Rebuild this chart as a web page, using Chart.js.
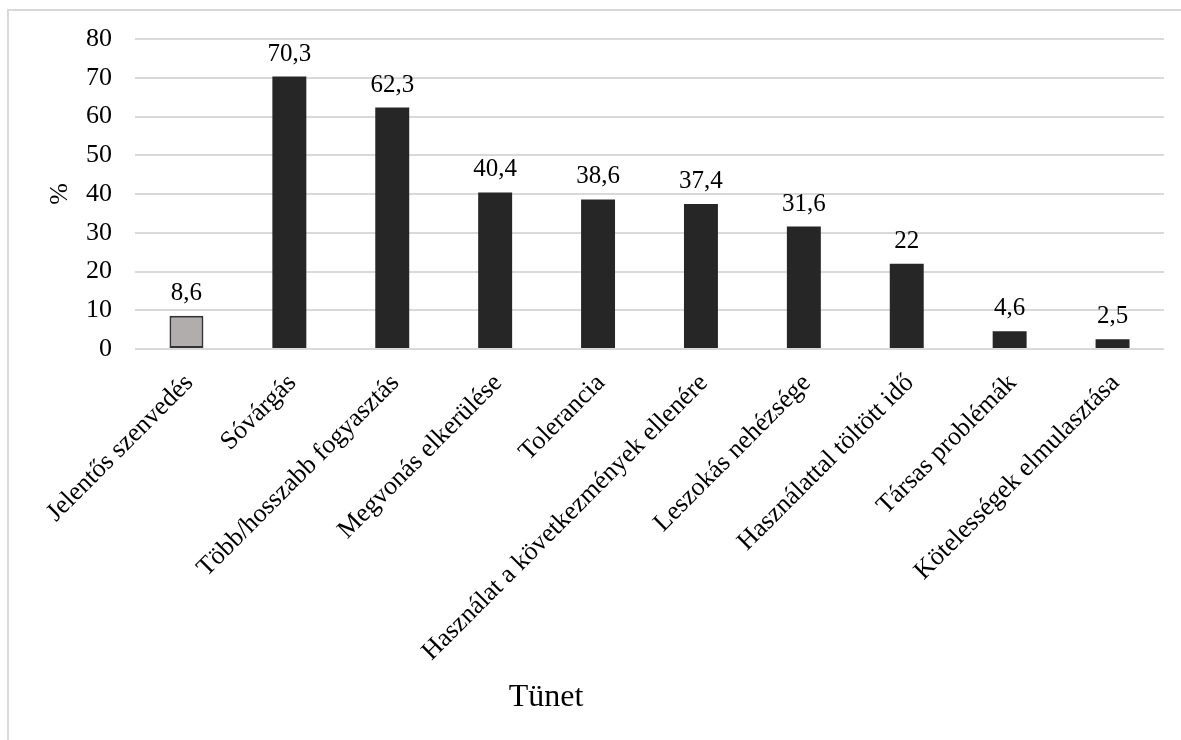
<!DOCTYPE html>
<html>
<head>
<meta charset="utf-8">
<script src="https://cdn.jsdelivr.net/npm/chart.js@4.4.1/dist/chart.umd.min.js"></script>
<style>
  html, body { margin: 0; padding: 0; background: #fff; overflow: hidden; }
  #frame { position: absolute; left: 7px; top: 9px; width: 1300px; height: 900px; border: 2px solid #d9d9d9; }
  #wrap { position: absolute; left: 0; top: 0; width: 1181px; height: 740px; }
</style>
</head>
<body>
<div id="frame"></div>
<div id="wrap"><canvas id="c" width="1181" height="740"></canvas></div>
<script>
const categories = [
  "Jelentős szenvedés",
  "Sóvárgás",
  "Több/hosszabb fogyasztás",
  "Megvonás elkerülése",
  "Tolerancia",
  "Használat a következmények ellenére",
  "Leszokás nehézsége",
  "Használattal töltött idő",
  "Társas problémák",
  "Kötelességek elmulasztása"
];
const values = [8.6, 70.3, 62.3, 40.4, 38.6, 37.4, 31.6, 22, 4.6, 2.5];
const valueLabels = ["8,6", "70,3", "62,3", "40,4", "38,6", "37,4", "31,6", "22", "4,6", "2,5"];
const yTicks = [0, 10, 20, 30, 40, 50, 60, 70, 80];
const yTitle = "%";
const xTitle = "Tünet";

const FONT = "'Liberation Serif', 'Times New Roman', serif";

const dataLabelPlugin = {
  id: 'dataLabels',
  afterDatasetsDraw(chart) {
    const ctx = chart.ctx;
    const meta = chart.getDatasetMeta(0);
    ctx.save();
    ctx.font = "25px " + FONT;
    ctx.fillStyle = "#000";
    ctx.textAlign = "center";
    ctx.textBaseline = "alphabetic";
    meta.data.forEach((bar, i) => {
      ctx.fillText(valueLabels[i], bar.x, bar.y - 16);
    });
    // x-axis title, positioned like the original (left of the plot centre)
    ctx.font = "32px " + FONT;
    ctx.fillText(xTitle, 546, 706);
    ctx.restore();
  }
};

new Chart(document.getElementById('c'), {
  type: 'bar',
  data: {
    labels: categories,
    datasets: [{
      data: values,
      backgroundColor: (c) => c.dataIndex === 0 ? '#b0adac' : '#262626',
      borderColor: '#333333',
      borderWidth: (c) => c.dataIndex === 0 ? 2 : 0,
      borderSkipped: false,
      categoryPercentage: 1,
      barPercentage: 0.33
    }]
  },
  options: {
    responsive: false,
    animation: false,
    layout: { padding: { left: 0, right: 17, top: 39, bottom: 0 } },
    plugins: { legend: { display: false }, tooltip: { enabled: false } },
    scales: {
      x: {
        grid: { display: false, drawTicks: false },
        border: { display: false },
        ticks: {
          font: { family: FONT, size: 26 },
          color: '#000',
          minRotation: 45,
          maxRotation: 45,
          padding: 19,
          labelOffset: 3,
          autoSkip: false
        },
        title: { display: false },
        afterFit(scale) { scale.height = 391; }
      },
      y: {
        min: 0,
        max: 80,
        afterBuildTicks(scale) { scale.ticks = yTicks.map(v => ({ value: v })); },
        grid: { color: '#d9d9d9', lineWidth: 2, drawTicks: false },
        border: { display: false },
        ticks: {
          font: { family: FONT, size: 26 },
          color: '#000',
          padding: 23
        },
        title: {
          display: true,
          text: yTitle,
          font: { family: FONT, size: 26 },
          color: '#000',
          padding: { top: 45, bottom: 0 }
        },
        afterFit(scale) { scale.width = 135; }
      }
    }
  },
  plugins: [dataLabelPlugin]
});
</script>
</body>
</html>
